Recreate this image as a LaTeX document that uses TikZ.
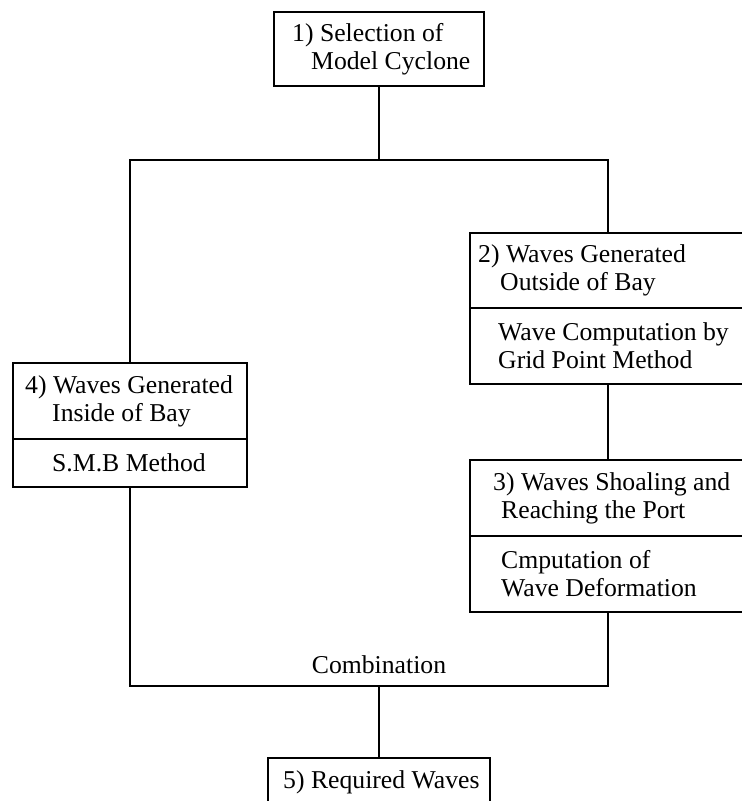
\documentclass[tikz,border=0pt]{standalone}
\usepackage{fontspec}
\setmainfont{Liberation Serif}
\begin{document}
\begin{tikzpicture}[x=1pt,y=-1pt,
  part/.style={draw,line width=1.6pt,inner sep=0pt,outer sep=0pt},
  txt/.style={anchor=west,align=left,inner sep=0pt,font=\fontsize{25.7pt}{28pt}\selectfont},
  conn/.style={line width=2.4pt}]
\useasboundingbox (0,0) rectangle (742,801);
\clip (0,0) rectangle (742,801);
% box 1
\node[part,minimum width=210pt,minimum height=74pt] (b1) at (379,49) {};
\node[txt] (t1) at ([xshift=18pt]b1.west) {1) Selection of\\\hspace*{19pt}Model Cyclone};
% box 2
\node[part,minimum width=276pt,minimum height=75pt] (b2a) at (608,270.5) {};
\node[part,minimum width=276pt,minimum height=76pt] (b2b) at (608,346) {};
\node[txt] (t2a) at ([xshift=8pt]b2a.west) {2) Waves Generated\\\hspace*{22pt}Outside of Bay};
\node[txt] (t2b) at ([xshift=28pt]b2b.west) {Wave Computation by\\Grid Point Method};
% box 3
\node[part,minimum width=276pt,minimum height=76pt] (b3a) at (608,498) {};
\node[part,minimum width=276pt,minimum height=76pt] (b3b) at (608,574) {};
\node[txt] (t3a) at ([xshift=23pt]b3a.west) {3) Waves Shoaling and\\\hspace*{8pt}Reaching the Port};
\node[txt] (t3b) at ([xshift=31pt]b3b.west) {Cmputation of\\Wave Deformation};
% box 4
\node[part,minimum width=234pt,minimum height=76pt] (b4a) at (130,401) {};
\node[part,minimum width=234pt,minimum height=48pt] (b4b) at (130,463) {};
\node[txt] (t4a) at ([xshift=12pt]b4a.west) {4) Waves Generated\\\hspace*{27pt}Inside of Bay};
\node[txt] (t4b) at ([xshift=39pt]b4b.west) {S.M.B Method};
% box 5
\node[part,minimum width=222pt,minimum height=48pt] (b5) at (379,782) {};
\node[txt] (t5) at ([xshift=15pt]b5.west) {5) Required Waves};
% combination label
\node[txt,anchor=center] (comb) at (379,665) {Combination};
% junction coordinates
\coordinate (jt) at (379,160);
\coordinate (jl) at (130,160);
\coordinate (jr) at (608,160);
\coordinate (bl) at (130,686);
\coordinate (br) at (608,686);
\coordinate (jb) at (379,686);
% connectors
\draw[conn] (b1.south) -- (jt);
\draw[conn] (b4a.north) -- (jl) -- (jr) -- (b2a.north);
\draw[conn] (b2b.south) -- (b3a.north);
\draw[conn] (b4b.south) -- (bl) -- (br) -- (b3b.south);
\draw[conn] (jb) -- (b5.north);
\end{tikzpicture}
\end{document}
